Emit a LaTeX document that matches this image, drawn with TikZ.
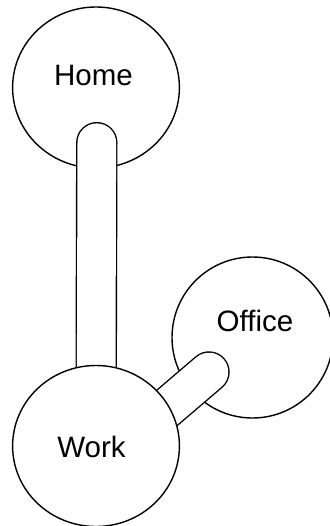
\documentclass[tikz,border=0pt]{standalone}
\usepackage{fontspec}
\setmainfont{Liberation Sans}
\usetikzlibrary{shapes.geometric}
\begin{document}
\begin{tikzpicture}[x=1pt,y=-1pt,
  place/.style={ellipse, draw=black, fill=white, line width=1.4pt, inner sep=0pt,
    minimum width=166.8pt, minimum height=161pt},
  lbl/.style={anchor=base, inner sep=0pt, font=\fontsize{29.5}{31}\selectfont},
  bar/.style={draw=black, line width=1.4pt, double=white, double distance=38.6pt, line cap=round}]
\useasboundingbox (0,0) rectangle (329,526);
\node[place] (home) at (96,87.5) {};
\node[place, minimum width=161pt] (office) at (252.5,337.5) {};
\coordinate (workc) at (96,446);
\coordinate (homeend) at (96.8,142.7);
\coordinate (workstart) at (120,448);
\coordinate (officeend) at (209,372);
\draw[bar] (workc) -- (homeend);
\draw[bar] (workstart) -- (officeend);
\node[place] (work) at (workc) {};
\node[lbl] (homelabel) at (93.5,86) {Home};
\node[lbl] (officelabel) at (255,331.7) {Office};
\node[lbl] (worklabel) at (91.5,457) {Work};
\end{tikzpicture}
\end{document}
